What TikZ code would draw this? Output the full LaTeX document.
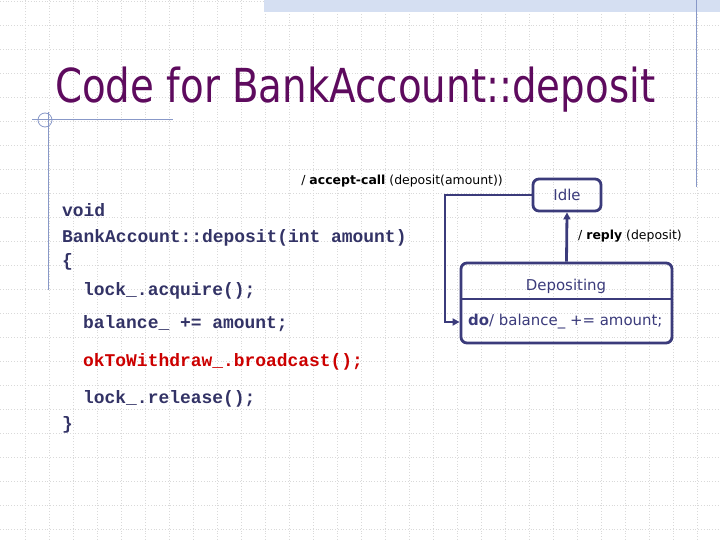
\documentclass[tikz,border=0pt]{standalone}
\usepackage{fontspec}
\setmainfont{DejaVu Sans}
\setmonofont{Liberation Mono}
\usetikzlibrary{positioning,arrows.meta}
\definecolor{titlepurple}{HTML}{5E0B5E}
\definecolor{codeblue}{HTML}{333366}
\definecolor{codered}{HTML}{CC0000}
\definecolor{statecol}{HTML}{3B3B7B}
\definecolor{decor}{HTML}{8898C8}
\definecolor{barblue}{HTML}{D5DFF2}
\begin{document}
\begin{tikzpicture}[x=1bp,y=-1bp,
    codeline/.style={anchor=base west, inner sep=0pt, text=codeblue,
      font=\ttfamily\bfseries\fontsize{18}{18}\selectfont},
    state/.style={draw=statecol, line width=2.8bp, rounded corners=6bp,
      font=\fontsize{15}{15}\selectfont, text=statecol, inner sep=0pt},
    trans/.style={draw=statecol, line width=2.8bp,
      -{Triangle[length=7bp,width=7bp]}},
    lbl/.style={inner sep=0pt, text=black, font=\fontsize{12.5}{12.5}\selectfont}]
  \useasboundingbox (0,0) rectangle (720,540);
  \fill[white] (0,0) rectangle (720,540);
  % background grid
  \foreach \gx in {0,...,28}{
    \draw[gray!30, dotted, line width=0.8bp] (25+24*\gx,0) -- (25+24*\gx,540);
  }
  \foreach \gy in {0,...,22}{
    \draw[gray!30, dotted, line width=0.8bp] (0,1+24*\gy) -- (720,1+24*\gy);
  }
  % slide decoration
  \fill[barblue] (264,0) rectangle (720,12);
  \draw[decor, line width=1bp] (696,0) -- (696,187);
  \draw[decor, line width=1bp] (32,120) -- (173,120);
  \draw[decor, line width=1bp] (48,112) -- (48,290);
  \draw[decor, line width=0.8bp] (45,120) circle (7);
  % title
  \node[anchor=base west, inner sep=0pt, text=titlepurple,
    font=\fontsize{47}{47}\selectfont] (title) at (55,103)
    {\resizebox{600bp}{\height}{Code for BankAccount::deposit}};
  % code
  \node[codeline] (void) at (62,217) {void};
  \node[codeline] (sig) at (62,243) {BankAccount::deposit(int amount)};
  \node[codeline] (lbrace) at (62,267) {\{};
  \node[codeline] (acq) at (83,295) {lock\_.acquire();};
  \node[codeline] (bal) at (83,328) {balance\_ += amount;};
  \node[codeline, text=codered] (bcast) at (83,366) {okToWithdraw\_.broadcast();};
  \node[codeline] (rel) at (83,403) {lock\_.release();};
  \node[codeline] (rbrace) at (62,429) {\}};
  % state machine
  \node[state, minimum width=68bp, minimum height=32bp] (idle) at (567,195) {Idle};
  \node[state, minimum width=211bp, minimum height=80bp] (dep) at (566.5,303) {};
  \node[inner sep=0pt, text=statecol, font=\fontsize{15}{15}\selectfont] (deptitle) at (566,286) {Depositing};
  \draw[statecol, line width=2.8bp] (dep.west |- 0,299) -- (dep.east |- 0,299);
  \node[lbl, anchor=west, text=statecol, font=\fontsize{15}{15}\selectfont] (dotext) at (468,322) {\textbf{do}/ balance\_ += amount;};
  \coordinate (bend) at (445,195);
  \draw[trans] (dep.north) -- (idle.south);
  \draw[trans] (idle.west) -- (bend) |- (dep.west |- dotext.west);
  \node[lbl, anchor=east] (acclbl) at (503,181) {/ \textbf{accept-call} (deposit(amount))};
  \node[lbl, anchor=west] (replbl) at (578,236) {/ \textbf{reply} (deposit)};
\end{tikzpicture}
\end{document}
